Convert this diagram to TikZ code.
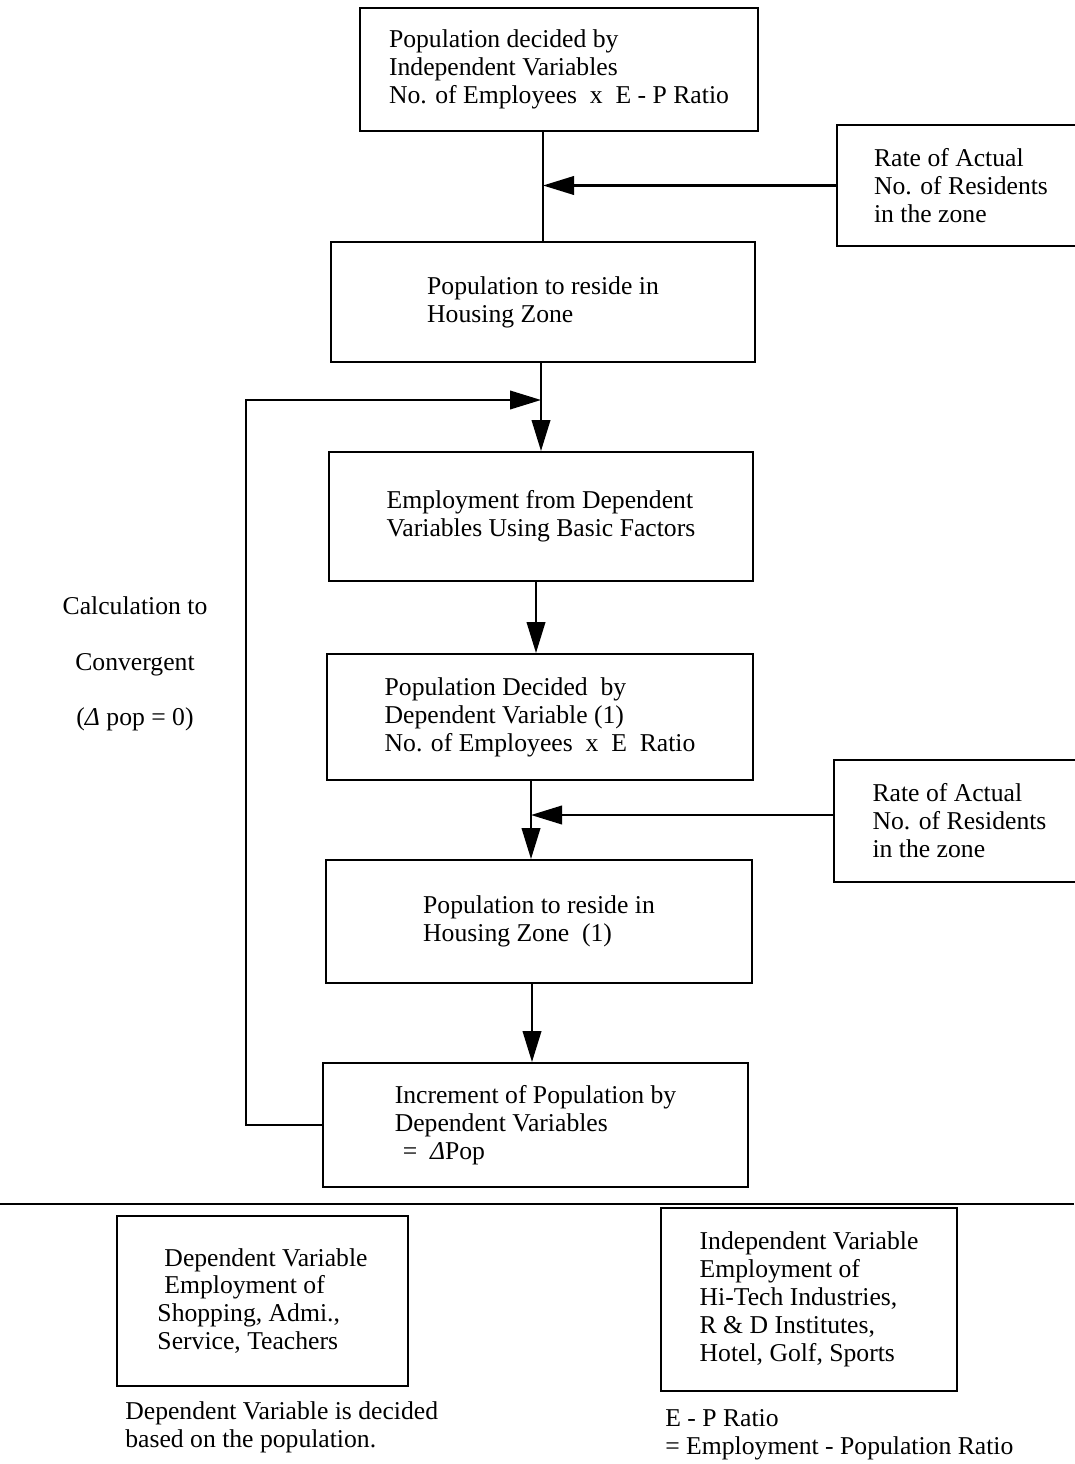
\documentclass[tikz,border=0pt]{standalone}
\usepackage{fontspec}
\setmainfont{Liberation Serif}
\usepackage{tikz}
\usetikzlibrary{arrows.meta,positioning,calc}
\tikzset{
  blk/.style={draw,line width=1.1pt,align=left,inner sep=0pt,font=\fontsize{14.6}{15.9}\selectfont},
  note/.style={align=left,inner sep=0pt,font=\fontsize{14.6}{15.9}\selectfont},
  flow/.style={-{Triangle[length=6.2mm,width=3.7mm]},line width=1.3pt},
  ln/.style={line width=1.3pt}
}

\begin{document}
\begin{tikzpicture}
\useasboundingbox (0,0) rectangle (21.48,-29.28);
% main chain
\node[blk,minimum width=7.96cm,minimum height=2.46cm] (p1) at (11.18,-1.39)
  {Population decided by\\Independent Variables\\No. of Employees\ \ x\ \ E - P Ratio};
\node[blk,minimum width=8.48cm,minimum height=2.4cm] (p2) at (10.86,-6.04)
  {Population to reside in\\Housing Zone};
\node[blk,minimum width=8.48cm,minimum height=2.58cm] (p3) at (10.82,-10.33)
  {Employment from Dependent\\Variables Using Basic Factors};
\node[blk,minimum width=8.52cm,minimum height=2.52cm] (p4) at (10.8,-14.34)
  {Population Decided\ \ by\\Dependent Variable (1)\\No. of Employees\ \ x\ \ E\ \ Ratio};
\node[blk,minimum width=8.52cm,minimum height=2.46cm] (p5) at (10.78,-18.43)
  {Population to reside in\\Housing Zone\ \ (1)};
\node[blk,minimum width=8.5cm,minimum height=2.48cm] (p6) at (10.71,-22.5)
  {Increment of Population by\\Dependent Variables\\\hspace*{0.16cm}=\ \ \textit{Δ}Pop};
% side inputs
\node[blk,minimum width=4.96cm,minimum height=2.42cm] (r1) at (19.22,-3.71)
  {Rate of Actual\\No. of Residents\\in the zone};
\node[blk,minimum width=5.02cm,minimum height=2.44cm] (r2) at (19.19,-16.42)
  {Rate of Actual\\No. of Residents\\in the zone};
\node[note,align=center,font=\fontsize{14.6}{31.7}\selectfont] (conv) at (2.7,-13.28)
  {Calculation to\\Convergent\\(\textit{Δ} pop = 0)};

\coordinate (c34) at ([xshift=-0.8mm]p4.north);
\coordinate (c45) at ([xshift=-1.6mm]p5.north);
\coordinate (c56) at ([xshift=-0.7mm]p6.north);
\coordinate (m1) at (p2.north |- r1.west);
\coordinate (m2) at ([yshift=1.2mm]c45 |- r2.west);
\coordinate (fb) at (4.92,-8.0);
\coordinate (m0) at (p3.north |- fb);

\draw[ln] (p2.north |- p1.south) -- (p2.north);
\draw[flow] (r1.west) -- (m1);
\draw[flow] (p3.north |- p2.south) -- (p3.north);
\draw[flow] (c34 |- p3.south) -- (c34);
\draw[flow] (c45 |- p4.south) -- (c45);
\draw[flow] (r2.west |- m2) -- (m2);
\draw[flow] (c56 |- p5.south) -- (c56);
\draw[flow] (p6.west) -| (fb) -- (m0);

% legend
\coordinate (sl) at (0,-24.08);
\coordinate (sr) at (21.48,-24.08);
\draw[line width=1pt] (sl) -- (sr);
\node[blk,minimum width=5.82cm,minimum height=3.4cm] (d1) at (5.25,-26.02)
  {\hspace*{0.14cm}Dependent Variable\\\hspace*{0.14cm}Employment of\\Shopping, Admi.,\\Service, Teachers};
\node[blk,minimum width=5.92cm,minimum height=3.66cm] (d2) at (16.18,-25.99)
  {Independent Variable\\Employment of\\Hi-Tech Industries,\\R \& D Institutes,\\Hotel, Golf, Sports};
\node[note,anchor=west] (n1) at (2.5,-28.54)
  {Dependent Variable is decided\\based on the population.};
\node[note,anchor=west] (n2) at (13.3,-28.69)
  {E - P Ratio\\= Employment - Population Ratio};
\end{tikzpicture}
\end{document}
